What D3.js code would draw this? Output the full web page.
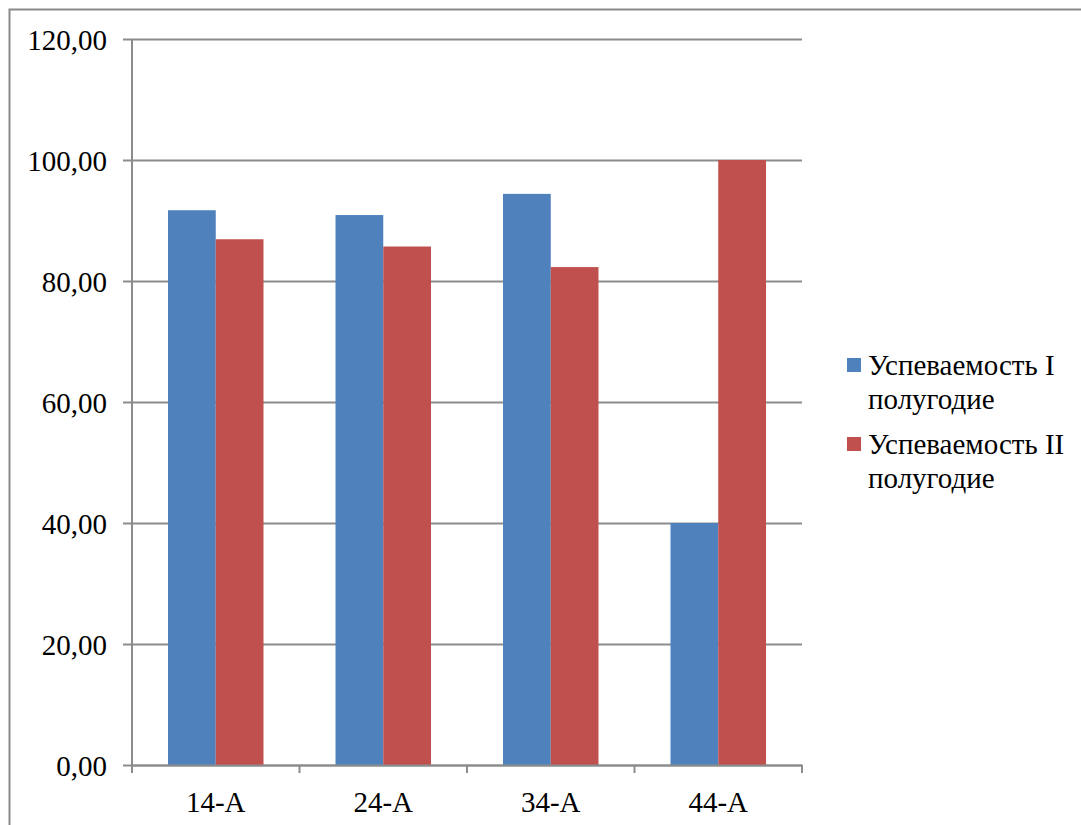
<!DOCTYPE html>
<html>
<head>
<meta charset="utf-8">
<script src="https://cdn.jsdelivr.net/npm/d3@7"></script>
<style>
  html, body { margin: 0; padding: 0; background: #fff; }
  svg { display: block; }
</style>
</head>
<body>
<svg id="chart" width="1081" height="825"></svg>
<script>
const categories = ["14-А", "24-А", "34-А", "44-А"];
const seriesNames = ["Успеваемость I полугодие", "Успеваемость II полугодие"];
const legendLines = [["Успеваемость I", "полугодие"], ["Успеваемость II", "полугодие"]];
const semester1 = [91.7, 90.9, 94.4, 40.0];
const semester2 = [86.9, 85.7, 82.3, 100.0];
const yTicks = [0, 20, 40, 60, 80, 100, 120];
const colors = ["#4F81BD", "#C0504D"];

(function () {
const svg = d3.select("#chart");
const pL = 132, pR = 802, pT = 39, pB = 765;
const FONT = '"Liberation Serif"';
const FS = "29px";

// outer border
svg.append("rect").attr("x", 9.5).attr("y", 9.5).attr("width", 1200).attr("height", 1000)
  .attr("fill", "none").attr("stroke", "#8a8a8a").attr("stroke-width", 2);

const x = d3.scaleBand().domain(categories).range([pL, pR]).paddingInner(0.43).paddingOuter(0.215);
const xs = d3.scaleBand().domain([0, 1]).range([0, x.bandwidth()]);
const y = d3.scaleLinear().domain([0, 120]).range([pB, pT]);

const fmt = v => d3.format(".2f")(v).replace(".", ",");

// gridlines + y labels
const yAxis = d3.axisLeft(y).tickValues(yTicks).tickSize(-(pR - pL)).tickFormat(fmt).tickPadding(25);
const gy = svg.append("g").attr("transform", `translate(${pL},0)`).call(yAxis);
gy.select(".domain").remove();
gy.selectAll(".tick line").attr("stroke", "#8c8c8c").attr("stroke-width", 2).attr("x1", -9);
gy.selectAll(".tick text").style("font-family", FONT).style("font-size", FS).attr("fill", "#000").attr("dy", "0.35em");

// bars
const data = categories.map((c, i) => ({ c, vals: [semester1[i], semester2[i]] }));
const groups = svg.append("g").selectAll("g").data(data).join("g")
  .attr("transform", d => `translate(${x(d.c)},0)`);
groups.selectAll("rect").data(d => d.vals.map((v, k) => ({ v, k }))).join("rect")
  .attr("x", d => xs(d.k)).attr("width", xs.bandwidth())
  .attr("y", d => y(d.v)).attr("height", d => y(0) - y(d.v))
  .attr("fill", d => colors[d.k]);

// y axis line
svg.append("line").attr("x1", pL).attr("x2", pL).attr("y1", pT).attr("y2", pB)
  .attr("stroke", "#8c8c8c").attr("stroke-width", 2);

// x axis
const xAxis = d3.axisBottom(x).tickSize(0).tickPadding(26);
const gx = svg.append("g").attr("transform", `translate(0,${pB})`).call(xAxis);
gx.select(".domain").attr("stroke", "#8c8c8c").attr("stroke-width", 2);
gx.selectAll(".tick text").style("font-family", FONT).style("font-size", FS).attr("fill", "#000");
const boundaries = d3.range(categories.length + 1).map(i => pL + i * (pR - pL) / categories.length);
svg.append("g").selectAll("line").data(boundaries).join("line")
  .attr("x1", d => d).attr("x2", d => d).attr("y1", pB).attr("y2", pB + 8)
  .attr("stroke", "#8c8c8c").attr("stroke-width", 2);

// legend
const lg = svg.append("g").attr("transform", "translate(847,358)");
const items = lg.selectAll("g").data(seriesNames).join("g")
  .attr("transform", (d, i) => `translate(0,${i * 79})`);
items.append("rect").attr("width", 14).attr("height", 14).attr("fill", (d, i) => colors[i]);
items.append("text").attr("x", 21).attr("y", 17).style("font-family", FONT).style("font-size", FS).attr("fill", "#000")
  .selectAll("tspan").data((d, i) => legendLines[i]).join("tspan")
  .attr("x", 21).attr("dy", (d, j) => j === 0 ? 0 : 34).text(d => d);
})();
</script>
</body>
</html>
